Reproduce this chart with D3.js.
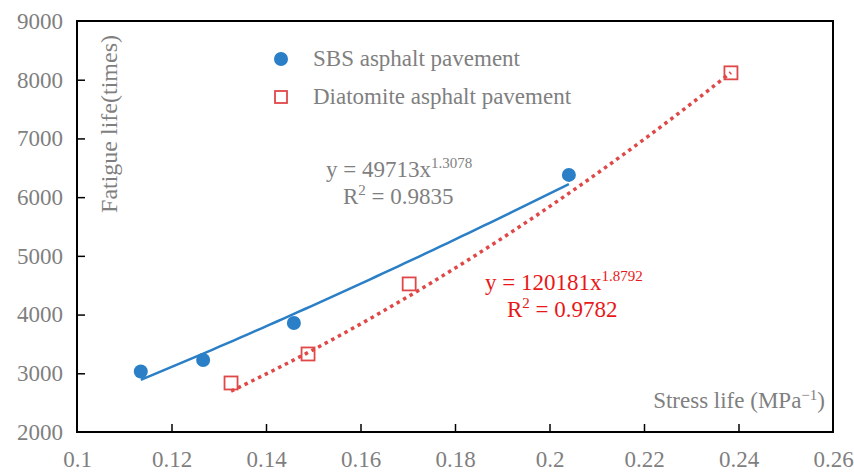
<!DOCTYPE html>
<html><head><meta charset="utf-8">
<script src="https://cdn.jsdelivr.net/npm/d3@7"></script>
<style>body{margin:0;background:#fff}text{font-family:"Liberation Serif",serif}</style>
</head><body><svg id="c" width="854" height="472"></svg>
<script>
const sbsX = [0.1135, 0.1267, 0.1459, 0.2041];
const sbsY = [3030, 3227, 3857, 6379];
const diaX = [0.1326, 0.1489, 0.1703, 0.2384];
const diaY = [2835, 3329, 4522, 8117];
const sbsFit = [49713, 1.3078];
const diaFit = [120181, 1.8792];
const xTicks = [0.1, 0.12, 0.14, 0.16, 0.18, 0.2, 0.22, 0.24, 0.26];
const yTicks = [2000, 3000, 4000, 5000, 6000, 7000, 8000, 9000];
const seriesNames = ["SBS asphalt pavement", "Diatomite asphalt pavement"];

const FF = "Liberation Serif";
const FS = 23, SUP = 15;
const svg = d3.select("#c");
const L = 77, R = 833, T = 21, B = 432;
const x = d3.scaleLinear().domain([0.1, 0.26]).range([L, R]);
const y = d3.scaleLinear().domain([2000, 9000]).range([B, T]);
const gray = "#7f7f7f", blue = "#2a7fc6", red = "#e04848";

// axes
const xa = svg.append("g").attr("transform", `translate(0,${B})`)
  .call(d3.axisBottom(x).tickValues(xTicks).tickSizeInner(-8).tickSizeOuter(0).tickPadding(19).tickFormat(d => String(+d.toFixed(2))));
const ya = svg.append("g").attr("transform", `translate(${L},0)`)
  .call(d3.axisLeft(y).tickValues(yTicks).tickSizeInner(-8).tickSizeOuter(0).tickPadding(14).tickFormat(d => String(d)));
[xa, ya].forEach(g => {
  g.attr("font-family", FF).attr("font-size", FS);
  g.select(".domain").remove();
  g.selectAll(".tick line").attr("stroke", "#000").attr("stroke-width", 1.5);
  g.selectAll(".tick text").attr("fill", gray);
});
xa.selectAll(".tick").filter(d => d === 0.1 || d === 0.26).select("line").remove();
ya.selectAll(".tick").filter(d => d === 2000 || d === 9000).select("line").remove();
svg.append("rect").attr("x", L).attr("y", T).attr("width", R - L).attr("height", B - T)
  .attr("fill", "none").attr("stroke", "#000").attr("stroke-width", 2);

// trendlines
function fitPts(f, xs) {
  const lo = d3.min(xs), hi = d3.max(xs);
  return d3.range(0, 61).map(i => { const xv = lo + (hi - lo) * i / 60; return [xv, f[0] * Math.pow(xv, f[1])]; });
}
const line = d3.line().x(d => x(d[0])).y(d => y(d[1]));
svg.append("path").attr("d", line(fitPts(sbsFit, sbsX))).attr("fill", "none").attr("stroke", blue).attr("stroke-width", 2.5);
svg.append("path").attr("d", line(fitPts(diaFit, diaX))).attr("fill", "none").attr("stroke", red).attr("stroke-width", 3.5).attr("stroke-dasharray", "3.5,4");

// points
svg.selectAll(".sbs").data(sbsX).join("circle").attr("cx", d => x(d)).attr("cy", (d, i) => y(sbsY[i])).attr("r", 7).attr("fill", blue);
svg.selectAll(".dia").data(diaX).join("rect").attr("x", d => x(d) - 6.5).attr("y", (d, i) => y(diaY[i]) - 6.5)
  .attr("width", 13).attr("height", 13).attr("fill", "none").attr("stroke", red).attr("stroke-width", 1.8);

function txt(xp, yp, col) {
  return svg.append("text").attr("x", xp).attr("y", yp).attr("fill", col).attr("font-size", FS).attr("font-family", FF);
}
// legend
svg.append("circle").attr("cx", 281).attr("cy", 59).attr("r", 7).attr("fill", blue);
svg.append("rect").attr("x", 275).attr("y", 91).attr("width", 12).attr("height", 12).attr("fill", "none").attr("stroke", red).attr("stroke-width", 1.8);
txt(313, 66, gray).text(seriesNames[0]);
txt(313, 104, gray).text(seriesNames[1]);

// axis titles
svg.append("text").attr("transform", "translate(117,124) rotate(-90)").attr("text-anchor", "middle").attr("fill", gray)
  .attr("font-size", 24).attr("font-family", FF).text("Fatigue life(times)");
const xt = txt(825, 408, gray).attr("text-anchor", "end");
xt.append("tspan").text("Stress life (MPa");
xt.append("tspan").attr("font-size", SUP).attr("dy", -8).text("\u22121");
xt.append("tspan").attr("dy", 8).text(")");

// equations
function eq(xp, yp, dx2, f, r2, col) {
  const t = txt(xp, yp, col);
  t.append("tspan").text(`y = ${f[0]}x`);
  t.append("tspan").attr("font-size", SUP).attr("dy", -9).text(f[1].toFixed(4));
  const t2 = txt(xp + dx2, yp + 27, col);
  t2.append("tspan").text("R");
  t2.append("tspan").attr("font-size", SUP).attr("dy", -9).text("2");
  t2.append("tspan").attr("dy", 9).text(` = ${r2}`);
}
eq(326, 177, 17, sbsFit, "0.9835", gray);
eq(485, 290, 22, diaFit, "0.9782", "#e81818");
</script></body></html>
